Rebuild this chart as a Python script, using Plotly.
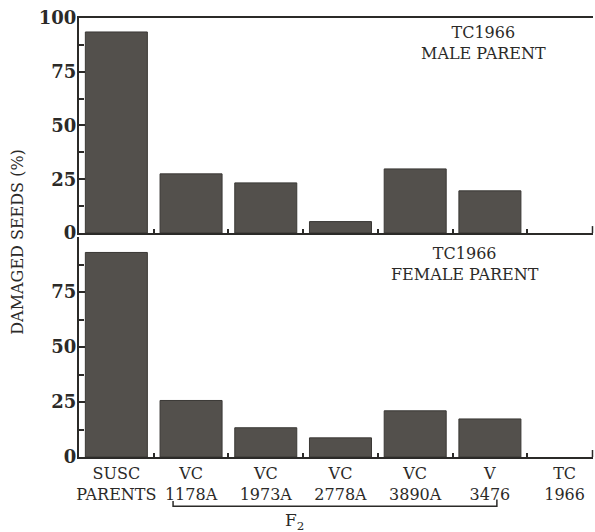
import plotly.graph_objects as go

categories = ["SUSC<br>PARENTS", "VC<br>1178A", "VC<br>1973A", "VC<br>2778A",
              "VC<br>3890A", "V<br>3476", "TC<br>1966"]
male_parent = [93.5, 27.5, 23.3, 5.3, 29.8, 19.6, 0]
female_parent = [93, 25.7, 13.3, 8.7, 21.0, 17.3, 0]
y_ticks_top = [0, 25, 50, 75, 100]
y_ticks_bottom = [0, 25, 50, 75]
y_minor = [12.5, 37.5, 62.5, 87.5]

FONT = "DejaVu Serif"
INK = "#2b2a28"
BAR = "#53504c"
outline_w = [1, 1, 1, 1, 1, 1, 0]

fig = go.Figure()
fig.add_trace(go.Bar(x=categories, y=male_parent, xaxis="x", yaxis="y",
                     marker=dict(color=BAR, line=dict(color="#3a3835", width=outline_w)),
                     width=0.83, showlegend=False))
fig.add_trace(go.Bar(x=categories, y=female_parent, xaxis="x2", yaxis="y2",
                     marker=dict(color=BAR, line=dict(color="#3a3835", width=outline_w)),
                     width=0.83, showlegend=False))

xcommon = dict(type="category", range=[-0.5, 6.38], showline=True, linecolor=INK,
               linewidth=2, ticks="inside", tickson="boundaries", ticklen=4,
               tickcolor=INK, tickwidth=1.5, showgrid=False, zeroline=False,
               automargin=False, tickangle=0)
ycommon = dict(range=[0, 100], showline=True, linecolor=INK, linewidth=2,
               ticks="inside", ticklen=6, tickcolor=INK, tickwidth=1.5,
               showgrid=False, zeroline=False, automargin=False,
               ticklabelstandoff=-3,
               tickfont=dict(family=FONT, size=18, color=INK),
               minor=dict(tickvals=y_minor, ticks="inside", ticklen=5,
                          tickcolor=INK, tickwidth=1.5))

ann_font = dict(family=FONT, size=16, color=INK)

fig.update_layout(
    width=595, height=532,
    margin=dict(l=79, r=2, t=18, b=75, autoexpand=False),
    paper_bgcolor="white", plot_bgcolor="white",
    xaxis=dict(xcommon, anchor="y", showticklabels=False, mirror=True),
    yaxis=dict(ycommon, domain=[0.5103, 1.0], anchor="x", tickvals=y_ticks_top,
               ticktext=["<b>%d</b>" % v for v in y_ticks_top]),
    xaxis2=dict(xcommon, anchor="y2", showticklabels=True,
                tickfont=dict(family=FONT, size=16, color=INK),
                ticklabelstandoff=1),
    yaxis2=dict(ycommon, domain=[0.0, 0.501], anchor="x2", tickvals=y_ticks_bottom,
                ticktext=["<b>%d</b>" % v for v in y_ticks_bottom]),
    annotations=[
        dict(text="DAMAGED SEEDS (%)", textangle=-90, xref="paper", yref="paper",
             x=-0.119, y=0.49, xanchor="center", yanchor="middle", showarrow=False,
             font=ann_font),
        dict(text="TC1966<br>MALE PARENT", xref="paper", yref="paper",
             x=0.786, y=0.942, xanchor="center", yanchor="middle", showarrow=False,
             font=ann_font),
        dict(text="TC1966<br>FEMALE PARENT", xref="paper", yref="paper",
             x=0.751, y=0.44, xanchor="center", yanchor="middle", showarrow=False,
             font=ann_font),
        dict(text="F<sub>2</sub>", xref="paper", yref="paper",
             x=0.42, y=-0.147, xanchor="center", yanchor="middle", showarrow=False,
             font=dict(family=FONT, size=17, color=INK)),
    ],
    shapes=[
        dict(type="path", xref="paper", yref="paper",
             path="M 0.183,-0.100 L 0.183,-0.112 L 0.813,-0.112 L 0.813,-0.097",
             line=dict(color=INK, width=1.5)),
        dict(type="line", xref="paper", yref="paper",
             x0=0.999, x1=0.999, y0=0.5103, y1=0.526,
             line=dict(color=INK, width=1.5)),
        dict(type="line", xref="paper", yref="paper",
             x0=0.999, x1=0.999, y0=0.0, y1=0.016,
             line=dict(color=INK, width=1.5)),
    ],
)

fig.write_html("out.html")
